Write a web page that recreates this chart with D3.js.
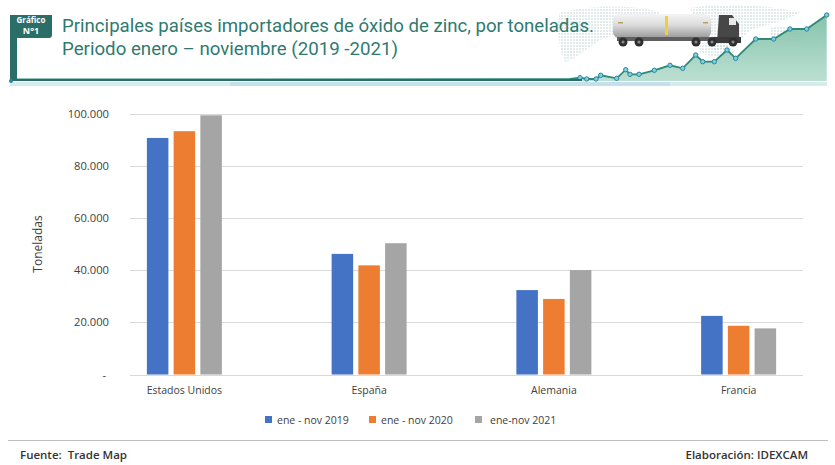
<!DOCTYPE html>
<html>
<head>
<meta charset="utf-8">
<script src="https://cdn.jsdelivr.net/npm/d3@7"></script>
<style>
  html, body { margin: 0; padding: 0; background: #ffffff; }
  svg { display: block; font-family: "Open Sans", "DejaVu Sans", sans-serif; }
</style>
</head>
<body>
<svg id="chart" width="835" height="465"></svg>
<script>
// ---- data ----
const categories = ["Estados Unidos", "España", "Alemania", "Francia"];
const seriesNames = ["ene - nov 2019", "ene - nov 2020", "ene-nov 2021"];
const values2019 = [90800, 46300, 32400, 22500];
const values2020 = [93400, 41900, 29000, 18700];
const values2021 = [99500, 50400, 40100, 17700];
const yTicks = [0, 20000, 40000, 60000, 80000, 100000];
const yTickLabels = ["-", "20.000", "40.000", "60.000", "80.000", "100.000"];
const seriesColors = ["#4472C4", "#ED7D31", "#A5A5A5"];
// decorative header trend (position along header, height above frame line)
const decoX = [10, 570, 580, 586.7, 596, 600.7, 616.7, 625.7, 630, 639, 654.3, 670, 682.7, 695.7, 702.7, 714.3, 727, 735.7, 755.7, 773.7, 790, 806.7, 826.7];
const decoY = [0.5, 1, 2.3, 1, 1, 4.7, 1.7, 10.3, 5.7, 5.7, 9.7, 14.7, 11.7, 25, 18.3, 18.3, 30, 21.7, 41, 41, 51, 51, 65];
const decoDots = d3.range(2, 23);

const svg = d3.select("#chart");
const defs = svg.append("defs");

// ---- header ----
const teal = "#2b6e68";
const titleColor = "#2f7a70";
const dX = d3.scaleLinear().domain([0, 835]).range([0, 835]);
const dY = d3.scaleLinear().domain([0, 65]).range([80, 15]);
const decoPts = decoX.map((x, i) => [x, decoY[i]]);

// faint dotted world map
const pat = defs.append("pattern").attr("id", "dots").attr("width", 3).attr("height", 3)
  .attr("patternUnits", "userSpaceOnUse");
pat.append("circle").attr("cx", 1).attr("cy", 1).attr("r", 0.8).attr("fill", "#8fb5b5");
const mapG = svg.append("g").attr("opacity", 0.6);
["M560,12 C600,4 640,6 660,12 C650,22 630,30 600,40 C585,50 575,60 565,62 C560,50 555,30 560,12 Z",
 "M690,8 C730,2 770,6 800,12 C790,20 770,24 750,30 C740,42 730,48 715,50 C705,40 700,30 690,8 Z",
 "M700,44 C715,40 730,44 735,52 C725,58 710,58 700,52 Z",
 "M770,28 C785,24 800,30 805,40 C795,44 780,42 770,36 Z"].forEach(p => {
  mapG.append("path").attr("d", p).attr("fill", "url(#dots)");
});

const grad = defs.append("linearGradient").attr("id", "areaGrad")
  .attr("x1", 0).attr("x2", 0).attr("y1", 0).attr("y2", 1);
grad.append("stop").attr("offset", "0%").attr("stop-color", "#79bca3");
grad.append("stop").attr("offset", "100%").attr("stop-color", "#b4dccd");
svg.append("path")
  .datum(decoPts)
  .attr("d", d3.area().x(d => dX(d[0])).y0(81).y1(d => dY(d[1])))
  .attr("fill", "url(#areaGrad)").attr("opacity", 0.9);
svg.append("rect").attr("x", 10).attr("y", 82).attr("width", 817).attr("height", 4).attr("fill", "#d6ebec");
svg.append("rect").attr("x", 230).attr("y", 82).attr("width", 440).attr("height", 4).attr("fill", "#c4e0ea");
svg.append("path")
  .datum(decoPts)
  .attr("d", d3.line().x(d => dX(d[0])).y(d => dY(d[1])))
  .attr("fill", "none").attr("stroke", "#2d8a78").attr("stroke-width", 1.8);
svg.selectAll("circle.deco").data(decoDots).join("circle")
  .attr("class", "deco")
  .attr("cx", i => dX(decoX[i])).attr("cy", i => dY(decoY[i]))
  .attr("r", 2.2).attr("fill", "#7fd0de").attr("stroke", "#2a86a0").attr("stroke-width", 1);

// truck (decorative)
const truck = svg.append("g").attr("transform", "translate(613,13)");
const tg = defs.append("linearGradient").attr("id", "tankGrad")
  .attr("x1", 0).attr("x2", 0).attr("y1", 0).attr("y2", 1);
tg.append("stop").attr("offset", "0%").attr("stop-color", "#f4f4f4");
tg.append("stop").attr("offset", "45%").attr("stop-color", "#dcdcdc");
tg.append("stop").attr("offset", "100%").attr("stop-color", "#9a9a9a");
truck.append("rect").attr("x", 0).attr("y", 1).attr("width", 98).attr("height", 24).attr("rx", 6).attr("fill", "url(#tankGrad)");
truck.append("rect").attr("x", 52).attr("y", 3).attr("width", 3).attr("height", 19).attr("fill", "#f2cd3c");
truck.append("rect").attr("x", 5).attr("y", 9).attr("width", 5).attr("height", 1.5).attr("fill", "#b8a060");
truck.append("rect").attr("x", 90).attr("y", 9).attr("width", 5).attr("height", 1.5).attr("fill", "#b8a060");
truck.append("rect").attr("x", 4).attr("y", 24).attr("width", 98).attr("height", 4).attr("fill", "#5f5f5f");
truck.append("path").attr("d", "M106,2 h13 l7,9 v18 h-22 z").attr("fill", "#474747");
truck.append("rect").attr("x", 116).attr("y", 5).attr("width", 7).attr("height", 7).attr("fill", "#e8e8e8");
truck.append("rect").attr("x", 100).attr("y", 24).attr("width", 28).attr("height", 6).attr("fill", "#3a3a3a");
[10, 26, 83, 99, 120].forEach(cx => {
  truck.append("circle").attr("cx", cx).attr("cy", 29).attr("r", 4.5).attr("fill", "#2f2f2f");
  truck.append("circle").attr("cx", cx).attr("cy", 29).attr("r", 1.6).attr("fill", "#888");
});

// frame line + badge
svg.append("rect").attr("x", 10).attr("y", 79).attr("width", 572).attr("height", 2).attr("fill", teal);
svg.append("rect").attr("x", 10).attr("y", 15).attr("width", 7).attr("height", 66).attr("fill", teal);
svg.append("path").attr("d", "M10,15 H52 V35 Q52,38 49,38 H10 Z").attr("fill", teal);
svg.append("circle").attr("cx", 11).attr("cy", 81).attr("r", 2).attr("fill", "#2a86a0");
svg.append("text").attr("x", 31).attr("y", 23).attr("text-anchor", "middle")
  .attr("font-size", 8).attr("font-weight", "bold").attr("fill", "#ffffff").text("Gráfico");
svg.append("text").attr("x", 31).attr("y", 34).attr("text-anchor", "middle")
  .attr("font-size", 9).attr("font-weight", "bold").attr("fill", "#ffffff").text("N°1");
svg.append("text").attr("x", 62).attr("y", 32)
  .attr("font-size", 18.5).attr("fill", titleColor).attr("font-family", "Roboto, sans-serif")
  .attr("textLength", 532).attr("lengthAdjust", "spacingAndGlyphs")
  .text("Principales países importadores de óxido de zinc, por toneladas.");
svg.append("text").attr("x", 62).attr("y", 54.5)
  .attr("font-size", 18.5).attr("fill", titleColor).attr("font-family", "Roboto, sans-serif")
  .attr("textLength", 336).attr("lengthAdjust", "spacingAndGlyphs")
  .text("Periodo enero – noviembre (2019 -2021)");

// ---- chart ----
const plotLeft = 130, plotRight = 803;
const y = d3.scaleLinear().domain([0, 100000]).range([374.5, 114]);
const x0 = d3.scaleBand().domain(categories).range([92, 831]).padding(0);
const x1 = d3.scaleBand().domain(seriesNames).range([-37.5, 37.5]).paddingInner(0.195).paddingOuter(0);
const allSeries = [values2019, values2020, values2021];

// gridlines
svg.append("g").selectAll("line").data(yTicks).join("line")
  .attr("x1", plotLeft).attr("x2", plotRight)
  .attr("y1", d => Math.round(y(d)) + 0.5).attr("y2", d => Math.round(y(d)) + 0.5)
  .attr("stroke", "#d9d9d9").attr("stroke-width", 1);

// y axis labels
const yAxis = d3.axisLeft(y).tickValues(yTicks)
  .tickFormat((d, i) => yTickLabels[i]).tickSize(0).tickPadding(0);
const yg = svg.append("g").attr("transform", "translate(109,0)").call(yAxis);
yg.select(".domain").remove();
yg.selectAll("text").attr("font-size", 11.2).attr("fill", "#404040")
  .attr("font-family", "'Open Sans', sans-serif");
yg.selectAll("text").filter((d) => d === 0).attr("dx", -3);

// axis title
svg.append("text").attr("transform", "translate(42,244) rotate(-90)")
  .attr("text-anchor", "middle").attr("font-size", 12).attr("fill", "#404040")
  .text("Toneladas");

// bars
const groups = svg.append("g").selectAll("g").data(categories).join("g")
  .attr("transform", c => `translate(${x0(c) + x0.bandwidth() / 2},0)`);
groups.selectAll("rect").data((c, ci) => seriesNames.map((s, si) => ({ s, si, v: allSeries[si][ci] })))
  .join("rect")
  .attr("x", d => x1(d.s)).attr("width", x1.bandwidth())
  .attr("y", d => y(d.v)).attr("height", d => y(0) - y(d.v))
  .attr("fill", d => seriesColors[d.si]);

// category labels
const xAxis = d3.axisBottom(x0).tickSize(0).tickPadding(0);
const xg = svg.append("g").attr("transform", "translate(0,387)").call(xAxis);
xg.select(".domain").remove();
xg.selectAll("text").attr("font-size", 10.5).attr("fill", "#404040")
  .attr("font-family", "'Open Sans', sans-serif");

// legend
const legendX = [265, 369, 475];
const lg = svg.append("g").selectAll("g").data(seriesNames).join("g")
  .attr("transform", (d, i) => `translate(${legendX[i]},416)`);
lg.append("rect").attr("width", 7).attr("height", 7).attr("fill", (d, i) => seriesColors[i]);
lg.append("text").attr("x", (d, i) => i === 2 ? 15 : 12).attr("y", 7.5)
  .attr("font-size", 10.5).attr("fill", "#404040").text(d => d);

// footer
svg.append("line").attr("x1", 8).attr("x2", 828).attr("y1", 440.5).attr("y2", 440.5)
  .attr("stroke", "#bfbfbf").attr("stroke-width", 1);
svg.append("text").attr("x", 20).attr("y", 459).attr("font-size", 11.5)
  .attr("font-weight", 600).attr("fill", "#333333").attr("xml:space", "preserve").text("Fuente:  Trade Map");
svg.append("text").attr("x", 808).attr("y", 459).attr("text-anchor", "end").attr("font-size", 11.5)
  .attr("font-weight", 600).attr("fill", "#333333").text("Elaboración: IDEXCAM");
</script>
</body>
</html>
